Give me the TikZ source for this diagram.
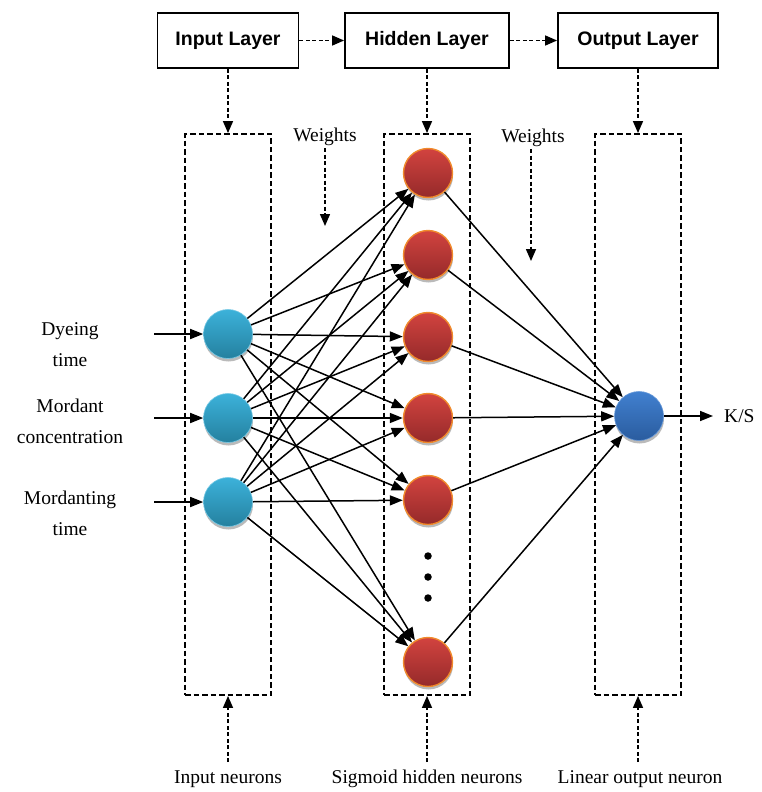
\documentclass[tikz,border=0pt]{standalone}
\usepackage{fontspec}
\setmainfont{Liberation Serif}
\setsansfont{Liberation Sans}
\usetikzlibrary{arrows.meta,shadows}
\definecolor{incA}{HTML}{3CB2DA}
\definecolor{incB}{HTML}{24809F}
\definecolor{hidA}{HTML}{D2433F}
\definecolor{hidB}{HTML}{952A2A}
\definecolor{hidE}{HTML}{F08A2C}
\definecolor{outA}{HTML}{4180CF}
\definecolor{outB}{HTML}{2A5C9F}
\begin{document}
\begin{tikzpicture}[x=1pt,y=-1pt,
  layerbox/.style={draw, line width=1.9pt, minimum height=55pt, inner sep=0pt,
    font=\sffamily\bfseries\fontsize{19.5}{22}\selectfont},
  dbox/.style={draw, line width=1.9pt, dash pattern=on 5.5pt off 3pt, inner sep=0pt, minimum width=86pt, minimum height=561pt},
  dar/.style={line width=1.5pt, dash pattern=on 4pt off 2.5pt, -{Triangle[length=12pt,width=10pt]}},
  sar/.style={line width=1.6pt, -{Triangle[length=13pt,width=10pt]}},
  conn/.style={line width=1.5pt, -{Triangle[length=13pt,width=10pt]}},
  neuron/.style={circle, minimum size=49pt, inner sep=0pt,
    drop shadow={shadow xshift=0.5pt, shadow yshift=-3pt, fill=black!45, opacity=0.6}},
  inneuron/.style={neuron, top color=incA, bottom color=incB, draw=incA!70!white, line width=0.6pt},
  hidneuron/.style={neuron, top color=hidA, bottom color=hidB, draw=hidE, line width=1.4pt},
  outneuron/.style={neuron, top color=outA, bottom color=outB, draw=outA!80!white, line width=0.6pt},
  lbl/.style={font=\fontsize{19.5}{31}\selectfont, align=center, inner sep=2pt},
  dotc/.style={circle, fill=black, inner sep=0pt, minimum size=7.5pt}
]
\useasboundingbox (0,0) rectangle (761,792);

% top layer boxes
\node[layerbox, minimum width=141pt] (ibox) at (228,40.5) {Input Layer};
\node[layerbox, minimum width=164pt] (hbox) at (427,40.5) {Hidden Layer};
\node[layerbox, minimum width=160pt] (obox) at (638,40.5) {Output Layer};
\draw[dar] (ibox) -- (hbox);
\draw[dar] (hbox) -- (obox);

% dashed column boxes
\node[dbox] (idb) at (228,414.5) {};
\node[dbox] (hdb) at (427,414.5) {};
\node[dbox] (odb) at (638,414.5) {};
\draw[dar] (ibox.south) -- (idb.north);
\draw[dar] (hbox.south) -- (hdb.north);
\draw[dar] (obox.south) -- (odb.north);

% weights labels
\node[lbl] (w1) at (325,137) {Weights};
\node[lbl] (w2) at (533,138) {Weights};
\coordinate (w1e) at (325,226);
\coordinate (w2e) at (531,261);
\draw[dar] (w1.south) -- (w1e);
\draw[dar] (w2.south -| w2e) -- (w2e);

% neurons
\node[inneuron] (i1) at (228,334) {};
\node[inneuron] (i2) at (228,418) {};
\node[inneuron] (i3) at (228,502) {};
\node[hidneuron] (h1) at (428,173) {};
\node[hidneuron] (h2) at (428,255) {};
\node[hidneuron] (h3) at (428,337) {};
\node[hidneuron] (h4) at (428,418) {};
\node[hidneuron] (h5) at (428,500) {};
\node[hidneuron] (h6) at (428,662) {};
\node[outneuron] (o) at (639,416) {};

\node[dotc] (d1) at (428,556) {};
\node[dotc] (d2) at (428,577) {};
\node[dotc] (d3) at (428,598) {};

% connections
\foreach \i in {1,2,3}{
  \foreach \j in {1,...,6}{
    \draw[conn] (i\i) -- (h\j);
  }
}
\foreach \j in {1,...,6}{
  \draw[conn] (h\j) -- (o);
}

% inputs
\node[lbl] (t1) at (70,345) {Dyeing\\time};
\node[lbl] (t2) at (70,421) {Mordant\\concentration};
\node[lbl] (t3) at (70,513) {Mordanting\\time};
\coordinate (a1) at (154,334);
\coordinate (a2) at (154,418);
\coordinate (a3) at (154,502);
\draw[sar] (a1) -- (i1);
\draw[sar] (a2) -- (i2);
\draw[sar] (a3) -- (i3);

% output
\coordinate (oe) at (713,416);
\draw[sar] (o) -- (oe);
\node[lbl, anchor=west] (ks) at (722,416) {K/S};

% bottom labels
\node[lbl] (b1) at (228,779) {Input neurons};
\node[lbl] (b2) at (427,779) {Sigmoid hidden neurons};
\node[lbl] (b3) at (640,779) {Linear output neuron};
\coordinate (c1) at (228,762);
\coordinate (c2) at (427,762);
\coordinate (c3) at (638,762);
\draw[dar] (c1) -- (idb.south);
\draw[dar] (c2) -- (hdb.south);
\draw[dar] (c3) -- (odb.south);
\end{tikzpicture}
\end{document}
